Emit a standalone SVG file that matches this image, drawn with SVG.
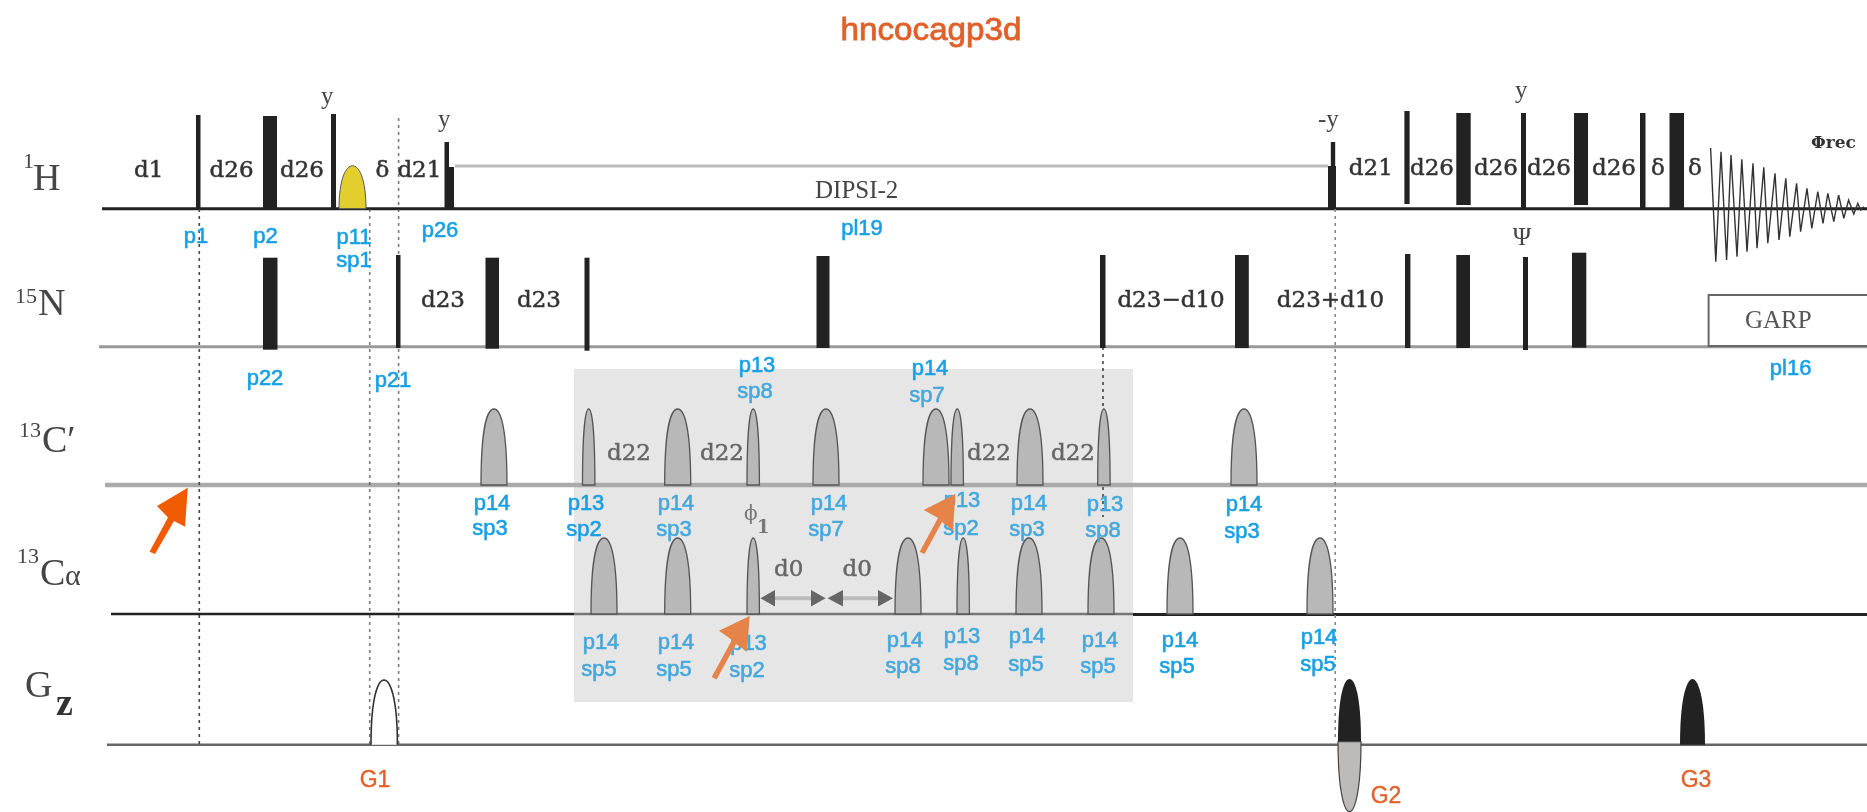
<svg xmlns="http://www.w3.org/2000/svg" width="1867" height="812" viewBox="0 0 1867 812">
<style>
.b{fill:#222}
.bl{font:22px "Liberation Sans",Arial,sans-serif;fill:#1aa0e4;text-anchor:middle;stroke:#1aa0e4;stroke-width:.6}
.bs{font:22px "Liberation Sans",Arial,sans-serif;fill:#45a8dc;text-anchor:middle;stroke:#45a8dc;stroke-width:.6}
.g{font:23px "Liberation Sans",Arial,sans-serif;fill:#e0622c;text-anchor:middle;stroke:#e0622c;stroke-width:.4}
.d{font:23px "DejaVu Serif",serif;fill:#333;stroke:#333;stroke-width:.5}
.ds{font:23px "DejaVu Serif",serif;fill:#666;stroke:#666;stroke-width:.5}
.ch{font:38px "Liberation Serif",serif;fill:#444}
.sup{font:22px "Liberation Serif",serif;fill:#444}
.t{font:25px "Liberation Serif",serif;fill:#444}
.base{fill:none}
.dot{fill:none;stroke:#444;stroke-width:1.6;stroke-dasharray:3 4}
.s{fill:#b8b8b8;stroke:#555;stroke-width:1.3}
.ha{fill:#666}
</style>
<defs>
<filter id="soft" x="0" y="0" width="100%" height="100%"><feGaussianBlur stdDeviation="0.7"/></filter>
<path id="w" d="M0 0c0-58 6.500-76 13-76s13 18 13 76z"/>
<path id="n" d="M0 0c0-55 3-76 6.200-76s6.200 21 6.200 76z"/>
</defs>
<rect width="1867" height="812" fill="#fff"/>
<g filter="url(#soft)">
<rect id="shade" x="574" y="369" width="559" height="333" fill="#e6e6e6"/>
<text id="title" x="931" y="40" font-family="Liberation Sans,sans-serif" font-size="32" fill="#e0602a" stroke="#e0602a" stroke-width=".8" text-anchor="middle" textLength="181" lengthAdjust="spacingAndGlyphs">hncocagp3d</text>

<g id="connectors">
<path class="base" stroke="#222" stroke-width="3" d="M102 208.700H1867"/>
<path class="base" stroke="#999" stroke-width="3" d="M99 346.700H1867"/>
<path class="base" stroke="#aaa" stroke-width="4.500" d="M105 485H1867"/>
<path class="base" stroke="#222" stroke-width="2.500" d="M111 614H574"/>
<path class="base" stroke="#777" stroke-width="2.500" d="M574 614H1133"/>
<path class="base" stroke="#222" stroke-width="3" d="M1133 614.500H1867"/>
<path class="base" stroke="#666" stroke-width="2.500" d="M107 744.700H1867"/>
<path class="base" stroke="#bbb" stroke-width="3" d="M455 166H1328"/>
<path class="dot" d="M199.300 209V744"/>
<path class="dot" stroke-opacity=".7" d="M369.700 209V744"/>
<path class="dot" stroke-opacity=".7" d="M398.600 118V744"/>
<path class="dot" d="M1103 347V517"/>
<path class="dot" style="stroke:#888" d="M1335.200 209V741"/>
<g id="d0-arrows">
<path d="M775 598.300H811M843 598.300H878" fill="none" stroke="#bbb" stroke-width="4"/>
<path class="ha" d="M760.400 598.300L775 590V606.600zM825.600 598.300L811 590V606.600zM827.600 598.300L843 590V606.600zM893 598.300L878 590V606.600z"/>
</g>
</g>

<g id="ch-1H"><text class="sup" x="23" y="168">1</text><text class="ch" x="33" y="190">H</text></g>
<g id="ch-15N"><text class="sup" x="15" y="303">15</text><text class="ch" x="38" y="315">N</text></g>
<g id="ch-13Cp"><text class="sup" x="19" y="437">13</text><text class="ch" x="42" y="452">C′</text></g>
<g id="ch-13Ca"><text class="sup" x="17" y="563">13</text><text class="ch" x="40" y="585">C</text><text class="sup" x="65" y="585" style="font-size:30px">α</text></g>
<g id="ch-Gz"><text class="ch" x="25" y="697">G</text><text x="56" y="715" font-family="Liberation Serif,serif" font-size="38" font-weight="bold" fill="#333">z</text></g>

<g id="pulses-1H">
<rect class="b" x="196" y="115" width="4.500" height="94"/>
<rect class="b" x="263" y="116" width="14" height="93"/>
<rect class="b" x="331" y="114" width="5" height="95"/>
<path id="yellow" d="M339 208.700c0-30 7-43 13.500-43s13.500 13 13.500 43z" fill="#e2cf2e" stroke="#555" stroke-width="1"/>
<path class="b" d="M444.500 142h4.500v25h5v42h-9.500z"/>
<path class="b" d="M1330.800 142h4.400v24h.8v43h-8v-43h2.800z"/>
<rect class="b" x="1404.400" y="111" width="5.200" height="93"/>
<rect class="b" x="1456.300" y="113" width="14.400" height="92"/>
<rect class="b" x="1521" y="113" width="5" height="96"/>
<rect class="b" x="1574" y="113" width="14" height="92"/>
<rect class="b" x="1640" y="113" width="5.500" height="96"/>
<rect class="b" x="1669.500" y="113" width="14.500" height="96"/>
<polyline id="fid" fill="none" stroke="#333" stroke-width="1.400" points="1710.600,148 1715.800,261.700 1721,151.700 1726.600,260 1731,155 1737,256.700 1741.800,159.300 1747,251.700 1753,163.300 1757,248.300 1763.800,167.300 1767.800,243.300 1775,173.300 1779,240 1785.800,178.300 1789.800,236.700 1796.600,183.300 1800.600,231.700 1807,188.300 1811.800,228.300 1817.800,191.700 1823,223.300 1827.800,193.300 1833.800,221.700 1838.600,195 1843.800,218.300 1848.600,200 1853.800,214 1857.800,203.300 1860.600,210 1863.800,206.700"/>
</g>
<g id="pulses-15N">
<rect class="b" x="263" y="257.700" width="14.500" height="92"/>
<rect class="b" x="396" y="255" width="4.500" height="93"/>
<rect class="b" x="485.500" y="257.700" width="13.500" height="91"/>
<rect class="b" x="584.500" y="257.700" width="5" height="93"/>
<rect class="b" x="816.500" y="256" width="13" height="92"/>
<rect class="b" x="1100" y="255" width="5.500" height="93"/>
<rect class="b" x="1235" y="255" width="13.800" height="93"/>
<rect class="b" x="1405" y="254" width="5.400" height="94"/>
<rect class="b" x="1456.300" y="255" width="13.700" height="93"/>
<rect class="b" x="1523" y="257" width="5" height="93"/>
<rect class="b" x="1572" y="252.700" width="14.300" height="95"/>
<rect id="garp" x="1708.600" y="295" width="170" height="51" fill="#fff" stroke="#666" stroke-width="2"/>
</g>
<g id="pulses-13Cp" class="s">
<use href="#w" x="481" y="485"/><use href="#n" x="582.500" y="485"/><use href="#w" x="664.700" y="485"/><use href="#n" x="747" y="485"/><use href="#w" x="813" y="485"/><use href="#w" x="923" y="485"/><use href="#n" x="951" y="485"/><use href="#w" x="1017" y="485"/><use href="#n" x="1097.700" y="485"/><use href="#w" x="1231" y="485"/>
</g>
<g id="pulses-13Ca" class="s">
<use href="#w" x="591" y="614"/><use href="#w" x="664.700" y="614"/><use href="#n" x="747" y="614"/><use href="#w" x="895" y="614"/><use href="#n" x="957" y="614"/><use href="#w" x="1016" y="614"/><use href="#w" x="1088" y="614"/><use href="#w" x="1167" y="614"/><use href="#w" x="1307" y="614"/>
</g>
<g id="G1-pulse"><path d="M371 744.700c0-48 7-64.700 13-64.700s13.400 16.700 13.400 64.700" fill="#fff" stroke="#333" stroke-width="1.600"/></g>
<g id="G2-pulse">
<path d="M1338 741.700c0-46 6-62.700 11.500-62.700s11.500 16.700 11.500 62.700z" fill="#222"/>
<path d="M1338 741.700c0 48 6 70 11.500 70s11.500-22 11.500-70z" fill="#bdbaba" stroke="#444" stroke-width="1.200"/>
</g>
<g id="G3-pulse"><path d="M1680 744.700c0-48 7-65.700 12.500-65.700s12.500 17.700 12.500 65.700z" fill="#222"/></g>

<g id="delays">
<text class="d" x="134" y="177">d1</text><text class="d" x="209.600" y="177">d26</text><text class="d" x="280" y="177">d26</text><text class="d" x="375.600" y="177">δ</text><text class="d" x="397.400" y="177">d21</text>
<text class="d" x="1348.800" y="175">d21</text><text class="d" x="1410" y="175">d26</text><text class="d" x="1474" y="175">d26</text><text class="d" x="1527" y="175">d26</text><text class="d" x="1592" y="175">d26</text><text class="d" x="1651" y="175">δ</text><text class="d" x="1688" y="175">δ</text>
<text class="d" x="421" y="307">d23</text><text class="d" x="517" y="307">d23</text><text class="d" x="1117.400" y="307">d23−d10</text><text class="d" x="1276.800" y="307">d23+d10</text>
<text class="ds" x="607" y="460">d22</text><text class="ds" x="700" y="460">d22</text><text class="ds" x="967" y="460">d22</text><text class="ds" x="1051" y="460">d22</text>
<text class="ds" x="774" y="576">d0</text><text class="ds" x="842.600" y="576">d0</text>
<text x="1811" y="148" font-family="DejaVu Serif,serif" font-size="17" font-weight="bold" fill="#333">Φrec</text>
<text class="t" x="815" y="198">DIPSI-2</text><text class="t" x="1745" y="328" style="fill:#555">GARP</text>
<text class="t" x="321" y="104">y</text><text class="t" x="438" y="127">y</text><text class="t" x="1318" y="127">-y</text><text class="t" x="1515" y="98">y</text><text class="t" x="1512.700" y="245">Ψ</text>
<text x="744" y="520" font-family="DejaVu Serif,serif" font-size="20" fill="#777">ϕ</text><text x="757" y="533" font-family="DejaVu Serif,serif" font-size="18" font-weight="bold" fill="#777">1</text>
</g>

<g id="labels">
<text class="bl" x="196" y="243">p1</text><text class="bl" x="265.600" y="243">p2</text><text class="bl" x="354" y="244">p11</text><text class="bl" x="354" y="267">sp1</text><text class="bl" x="440" y="237">p26</text><text class="bl" x="862" y="235">pl19</text>
<text class="bl" x="265" y="385">p22</text><text class="bl" x="393" y="387">p21</text><text class="bl" x="757" y="372">p13</text><text class="bs" x="755" y="398">sp8</text><text class="bl" x="930" y="375">p14</text><text class="bs" x="927" y="402">sp7</text><text class="bl" x="1790.600" y="375">pl16</text>
<text class="bl" x="492" y="510">p14</text><text class="bl" x="490" y="535">sp3</text><text class="bl" x="586" y="510">p13</text><text class="bl" x="584" y="536">sp2</text>
<text class="bs" x="676" y="510">p14</text><text class="bs" x="674" y="536">sp3</text><text class="bs" x="829" y="510">p14</text><text class="bs" x="826" y="536">sp7</text><text class="bs" x="962" y="507">p13</text><text class="bs" x="961" y="535">sp2</text><text class="bs" x="1029" y="510">p14</text><text class="bs" x="1027" y="536">sp3</text><text class="bs" x="1105" y="511">p13</text><text class="bs" x="1103" y="537">sp8</text>
<text class="bl" x="1244" y="511">p14</text><text class="bl" x="1242" y="538">sp3</text>
<text class="bs" x="601" y="649">p14</text><text class="bs" x="599" y="676">sp5</text><text class="bs" x="676" y="649">p14</text><text class="bs" x="674" y="676">sp5</text><text class="bs" x="748.500" y="650">p13</text><text class="bs" x="747" y="677">sp2</text><text class="bs" x="905" y="647">p14</text><text class="bs" x="903" y="673">sp8</text><text class="bs" x="962" y="643">p13</text><text class="bs" x="961" y="670">sp8</text><text class="bs" x="1027" y="643">p14</text><text class="bs" x="1026" y="671">sp5</text><text class="bs" x="1100" y="647">p14</text><text class="bs" x="1098" y="673">sp5</text>
<text class="bl" x="1180" y="647">p14</text><text class="bl" x="1177" y="673">sp5</text><text class="bl" x="1319" y="644">p14</text><text class="bl" x="1318" y="671">sp5</text>
<text class="g" x="375" y="787">G1</text><text class="g" x="1386" y="803">G2</text><text class="g" x="1696" y="787">G3</text>
</g>

<g id="annotation-arrows">
<path d="M149.500 551.700L168 517.600L157 506L187.800 487.700L185 526.700L174 521L155 554z" fill="#f05a00"/>
<path d="M711.700 677L732 640L718.900 630.700L749.700 616L747 651.700L736 644L716.500 679.500z" fill="#e5834a"/>
<path d="M919.700 551.700L938 518L923.700 510L955.300 494L953 530.700L942 522L924.500 554z" fill="#e5834a"/>
</g>
</g>
</svg>
